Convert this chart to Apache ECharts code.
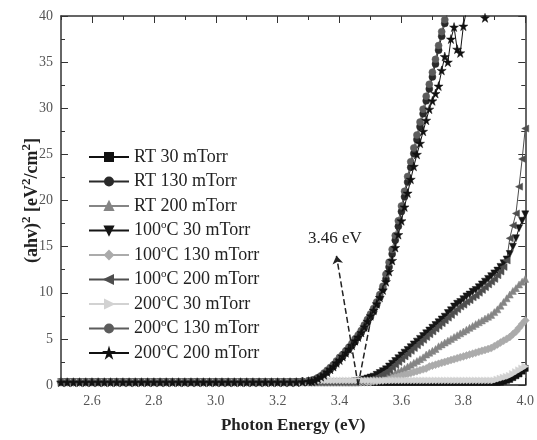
<!DOCTYPE html>
<html>
<head>
<meta charset="utf-8">
<script src="https://cdn.jsdelivr.net/npm/echarts@6/dist/echarts.min.js"></script>
<style>
  html, body { margin: 0; padding: 0; background: #fff; }
  #chart { width: 537px; height: 440px; }
</style>
</head>
<body>
<div id="chart"></div>
<script>
// photon energy (eV), coarse below 3.30 and fine above
const energy = [
  2.50, 2.52, 2.54, 2.56, 2.58, 2.60, 2.62, 2.64, 2.66, 2.68,
  2.70, 2.72, 2.74, 2.76, 2.78, 2.80, 2.82, 2.84, 2.86, 2.88,
  2.90, 2.92, 2.94, 2.96, 2.98, 3.00, 3.02, 3.04, 3.06, 3.08,
  3.10, 3.12, 3.14, 3.16, 3.18, 3.20, 3.22, 3.24, 3.26, 3.28,
  3.30,
  3.31, 3.32, 3.33, 3.34, 3.35, 3.36, 3.37, 3.38, 3.39, 3.40,
  3.41, 3.42, 3.43, 3.44, 3.45, 3.46, 3.47, 3.48, 3.49, 3.50,
  3.51, 3.52, 3.53, 3.54, 3.55, 3.56, 3.57, 3.58, 3.59, 3.60,
  3.61, 3.62, 3.63, 3.64, 3.65, 3.66, 3.67, 3.68, 3.69, 3.70,
  3.71, 3.72, 3.73, 3.74, 3.75, 3.76, 3.77, 3.78, 3.79, 3.80,
  3.81, 3.82, 3.83, 3.84, 3.85, 3.86, 3.87, 3.88, 3.89, 3.90,
  3.91, 3.92, 3.93, 3.94, 3.95, 3.96, 3.97, 3.98, 3.99, 4.00
];

// (ahv)^2 values, one array per sample
const rt30 = [
  0.3, 0.3, 0.3, 0.3, 0.3, 0.3, 0.3, 0.3, 0.3, 0.3,
  0.3, 0.3, 0.3, 0.3, 0.3, 0.3, 0.3, 0.3, 0.3, 0.3,
  0.3, 0.3, 0.3, 0.3, 0.3, 0.3, 0.3, 0.3, 0.3, 0.3,
  0.3, 0.3, 0.3, 0.3, 0.3, 0.3, 0.3, 0.3, 0.3, 0.3,
  0.3,
  0.3, 0.3, 0.3, 0.3, 0.3, 0.3, 0.3, 0.3, 0.3, 0.3,
  0.3, 0.3, 0.3, 0.3, 0.3, 0.3, 0.3, 0.3, 0.3, 0.3,
  0.3, 0.3, 0.3, 0.3, 0.3, 0.3, 0.3, 0.3, 0.3, 0.3,
  0.3, 0.3, 0.3, 0.3, 0.3, 0.3, 0.3, 0.3, 0.3, 0.3,
  0.3, 0.3, 0.3, 0.3, 0.3, 0.3, 0.3, 0.3, 0.3, 0.3,
  0.3, 0.3, 0.3, 0.3, 0.3, 0.3, 0.3, 0.3, 0.3, 0.3,
  0.3, 0.3, 0.4, 0.5, 0.6, 0.8, 1.0, 1.2, 1.5, 1.8
];
const rt130 = [
  0.3, 0.3, 0.3, 0.3, 0.3, 0.3, 0.3, 0.3, 0.3, 0.3,
  0.3, 0.3, 0.3, 0.3, 0.3, 0.3, 0.3, 0.3, 0.3, 0.3,
  0.3, 0.3, 0.3, 0.3, 0.3, 0.3, 0.3, 0.3, 0.3, 0.3,
  0.3, 0.3, 0.3, 0.3, 0.3, 0.3, 0.3, 0.3, 0.35, 0.4,
  0.45,
  0.5, 0.6, 0.7, 0.9, 1.2, 1.4, 1.7, 2.0, 2.4, 2.8,
  3.1, 3.5, 3.9, 4.3, 4.7, 5.2, 5.7, 6.2, 6.8, 7.4,
  8.0, 8.7, 9.5, 10.4, 11.5, 12.8, 14.2, 15.7, 17.2, 18.8,
  20.4, 22.0, 23.6, 25.1, 26.6, 28.0, 29.4, 30.8, 32.1, 33.4,
  34.8, 36.3, 37.8, 39.2, 40.5, 41.5
];
const rt200 = [
  0.3, 0.3, 0.3, 0.3, 0.3, 0.3, 0.3, 0.3, 0.3, 0.3,
  0.3, 0.3, 0.3, 0.3, 0.3, 0.3, 0.3, 0.3, 0.3, 0.3,
  0.3, 0.3, 0.3, 0.3, 0.3, 0.3, 0.3, 0.3, 0.3, 0.3,
  0.3, 0.3, 0.3, 0.3, 0.3, 0.3, 0.3, 0.3, 0.3, 0.3,
  0.3,
  0.3, 0.3, 0.3, 0.3, 0.3, 0.3, 0.3, 0.3, 0.3, 0.3,
  0.3, 0.3, 0.3, 0.3, 0.3, 0.3, 0.4, 0.4, 0.5, 0.5,
  0.6, 0.7, 0.8, 0.9, 1.0, 1.1, 1.2, 1.3, 1.5, 1.6,
  1.8, 2.0, 2.2, 2.4, 2.6, 2.8, 3.0, 3.3, 3.5, 3.7,
  3.9, 4.2, 4.4, 4.6, 4.8, 5.0, 5.2, 5.4, 5.6, 5.8,
  6.0, 6.2, 6.4, 6.6, 6.8, 7.0, 7.2, 7.4, 7.6, 7.9,
  8.2, 8.6, 9.0, 9.4, 9.8, 10.2, 10.5, 10.9, 11.2, 11.5
];
const c100_30 = [
  0.3, 0.3, 0.3, 0.3, 0.3, 0.3, 0.3, 0.3, 0.3, 0.3,
  0.3, 0.3, 0.3, 0.3, 0.3, 0.3, 0.3, 0.3, 0.3, 0.3,
  0.3, 0.3, 0.3, 0.3, 0.3, 0.3, 0.3, 0.3, 0.3, 0.3,
  0.3, 0.3, 0.3, 0.3, 0.3, 0.3, 0.3, 0.3, 0.3, 0.3,
  0.3,
  0.3, 0.3, 0.3, 0.3, 0.3, 0.3, 0.3, 0.3, 0.3, 0.3,
  0.3, 0.3, 0.3, 0.3, 0.4, 0.4, 0.5, 0.6, 0.7, 0.8,
  0.9, 1.1, 1.3, 1.5, 1.7, 2.0, 2.3, 2.6, 2.9, 3.2,
  3.5, 3.8, 4.1, 4.4, 4.7, 5.0, 5.3, 5.6, 5.9, 6.2,
  6.5, 6.8, 7.1, 7.4, 7.8, 8.1, 8.5, 8.8, 9.0, 9.3,
  9.6, 9.8, 10.1, 10.3, 10.6, 10.9, 11.2, 11.5, 11.8, 12.1,
  12.4, 12.8, 13.2, 13.6, 14.2, 15.0, 15.9, 17.0, 17.8, 18.5
];
const c100_130 = [
  0.3, 0.3, 0.3, 0.3, 0.3, 0.3, 0.3, 0.3, 0.3, 0.3,
  0.3, 0.3, 0.3, 0.3, 0.3, 0.3, 0.3, 0.3, 0.3, 0.3,
  0.3, 0.3, 0.3, 0.3, 0.3, 0.3, 0.3, 0.3, 0.3, 0.3,
  0.3, 0.3, 0.3, 0.3, 0.3, 0.3, 0.3, 0.3, 0.3, 0.3,
  0.3,
  0.3, 0.3, 0.3, 0.3, 0.3, 0.3, 0.3, 0.3, 0.3, 0.3,
  0.3, 0.3, 0.3, 0.3, 0.3, 0.3, 0.3, 0.3, 0.3, 0.3,
  0.4, 0.4, 0.5, 0.5, 0.6, 0.6, 0.7, 0.8, 0.9, 1.0,
  1.1, 1.2, 1.3, 1.4, 1.5, 1.6, 1.7, 1.8, 2.0, 2.1,
  2.2, 2.3, 2.4, 2.5, 2.6, 2.7, 2.8, 2.9, 3.0, 3.1,
  3.2, 3.3, 3.4, 3.5, 3.6, 3.7, 3.8, 3.9, 4.0, 4.2,
  4.4, 4.6, 4.8, 5.0, 5.2, 5.5, 5.8, 6.2, 6.6, 7.0
];
const c100_200 = [
  0.3, 0.3, 0.3, 0.3, 0.3, 0.3, 0.3, 0.3, 0.3, 0.3,
  0.3, 0.3, 0.3, 0.3, 0.3, 0.3, 0.3, 0.3, 0.3, 0.3,
  0.3, 0.3, 0.3, 0.3, 0.3, 0.3, 0.3, 0.3, 0.3, 0.3,
  0.3, 0.3, 0.3, 0.3, 0.3, 0.3, 0.3, 0.3, 0.3, 0.3,
  0.3,
  0.3, 0.3, 0.3, 0.3, 0.3, 0.3, 0.3, 0.3, 0.3, 0.3,
  0.3, 0.3, 0.3, 0.3, 0.3, 0.4, 0.4, 0.5, 0.5, 0.6,
  0.7, 0.8, 1.0, 1.2, 1.4, 1.6, 1.9, 2.2, 2.5, 2.8,
  3.1, 3.4, 3.7, 4.0, 4.3, 4.6, 4.9, 5.2, 5.5, 5.8,
  6.1, 6.4, 6.7, 7.0, 7.3, 7.6, 7.9, 8.2, 8.5, 8.7,
  9.0, 9.2, 9.5, 9.7, 10.0, 10.3, 10.6, 10.9, 11.2, 11.5,
  11.9, 12.3, 12.8, 13.5, 15.9, 17.3, 18.6, 21.5, 24.5, 27.8
];
const c200_30 = [
  0.3, 0.3, 0.3, 0.3, 0.3, 0.3, 0.3, 0.3, 0.3, 0.3,
  0.3, 0.3, 0.3, 0.3, 0.3, 0.3, 0.3, 0.3, 0.3, 0.3,
  0.3, 0.3, 0.3, 0.3, 0.3, 0.3, 0.3, 0.3, 0.3, 0.3,
  0.3, 0.3, 0.3, 0.3, 0.3, 0.3, 0.3, 0.3, 0.3, 0.3,
  0.4,
  0.5, 0.5, 0.5, 0.5, 0.5, 0.5, 0.5, 0.5, 0.5, 0.5,
  0.5, 0.5, 0.5, 0.5, 0.5, 0.5, 0.5, 0.5, 0.5, 0.5,
  0.5, 0.5, 0.5, 0.5, 0.5, 0.5, 0.5, 0.5, 0.5, 0.5,
  0.5, 0.5, 0.5, 0.5, 0.5, 0.5, 0.5, 0.5, 0.5, 0.5,
  0.5, 0.5, 0.5, 0.5, 0.5, 0.5, 0.5, 0.5, 0.5, 0.5,
  0.5, 0.5, 0.5, 0.5, 0.5, 0.5, 0.5, 0.5, 0.5, 0.5,
  0.6, 0.7, 0.8, 0.9, 1.0, 1.2, 1.4, 1.6, 1.8, 2.0
];
const c200_130 = [
  0.3, 0.3, 0.3, 0.3, 0.3, 0.3, 0.3, 0.3, 0.3, 0.3,
  0.3, 0.3, 0.3, 0.3, 0.3, 0.3, 0.3, 0.3, 0.3, 0.3,
  0.3, 0.3, 0.3, 0.3, 0.3, 0.3, 0.3, 0.3, 0.3, 0.3,
  0.3, 0.3, 0.3, 0.3, 0.3, 0.3, 0.3, 0.3, 0.35, 0.4,
  0.45,
  0.5, 0.6, 0.8, 1.0, 1.3, 1.6, 1.9, 2.2, 2.6, 3.0,
  3.3, 3.7, 4.1, 4.5, 5.0, 5.4, 5.9, 6.5, 7.1, 7.7,
  8.3, 9.0, 9.8, 10.7, 12.0, 13.3, 14.7, 16.2, 17.8, 19.4,
  21.0, 22.6, 24.2, 25.7, 27.1, 28.5, 29.9, 31.3, 32.6, 33.9,
  35.3, 36.8, 38.3, 39.6, 40.8, 41.8
];
const c200_200 = [
  0.3, 0.3, 0.3, 0.3, 0.3, 0.3, 0.3, 0.3, 0.3, 0.3,
  0.3, 0.3, 0.3, 0.3, 0.3, 0.3, 0.3, 0.3, 0.3, 0.3,
  0.3, 0.3, 0.3, 0.3, 0.3, 0.3, 0.3, 0.3, 0.3, 0.3,
  0.3, 0.3, 0.3, 0.3, 0.3, 0.3, 0.3, 0.3, 0.3, 0.35,
  0.4,
  0.4, 0.5, 0.7, 0.9, 1.1, 1.4, 1.7, 2.0, 2.4, 2.7,
  3.1, 3.5, 3.9, 4.3, 4.8, 5.2, 5.7, 6.3, 6.9, 7.5,
  8.1, 8.8, 9.5, 10.3, 11.2, 12.3, 13.5, 14.9, 16.3, 17.8,
  19.3, 20.8, 22.3, 23.7, 25.0, 26.2, 27.5, 28.7, 29.9, 30.8,
  31.6, 32.4, 34.1, 35.6, 35.0, 37.5, 38.8, 36.4, 36.0, 38.9,
  40.6, 41.2, 40.8, 41.0, 40.5, 40.2, 39.8, 40.6, 41.2, 41.8
];

const xTicks = [2.6, 2.8, 3.0, 3.2, 3.4, 3.6, 3.8, 4.0];
const xMinorTicks = [2.5, 2.6, 2.7, 2.8, 2.9, 3.0, 3.1, 3.2, 3.3, 3.4, 3.5, 3.6, 3.7, 3.8, 3.9, 4.0];
const edgeEv = 3.46;

const serif = '"Liberation Serif", "Times New Roman", serif';
const starPath = 'path://M50,0 L61,35 L98,35 L68,57 L79,91 L50,70 L21,91 L32,57 L2,35 L39,35 Z';

// name, values, color, symbol, rotate, size
const samples = [
  ['RT 30 mTorr', rt30, '#111', 'rect', 0, 6],
  ['RT 130 mTorr', rt130, '#2a2a2a', 'circle', 0, 7],
  ['RT 200 mTorr', rt200, '#858585', 'triangle', 0, 7],
  ['100°C 30 mTorr', c100_30, '#151515', 'triangle', 180, 7],
  ['100°C 130 mTorr', c100_130, '#ababab', 'diamond', 0, 8],
  ['100°C 200 mTorr', c100_200, '#4e4e4e', 'triangle', 90, 7],
  ['200°C 30 mTorr', c200_30, '#d2d2d2', 'triangle', -90, 7],
  ['200°C 130 mTorr', c200_130, '#5c5c5c', 'circle', 0, 7],
  ['200°C 200 mTorr', c200_200, '#111', starPath, 0, 9]
];

const chart = echarts.init(document.getElementById('chart'));

const series = samples.map(s => ({
  name: s[0],
  type: 'line',
  xAxisIndex: 0,
  yAxisIndex: 0,
  data: s[1].map((v, i) => [energy[i], v]),
  symbol: s[3],
  symbolRotate: s[4],
  symbolSize: s[5],
  showAllSymbol: true,
  clip: true,
  lineStyle: { color: s[2], width: 1 },
  itemStyle: { color: s[2], borderColor: s[2], borderWidth: 0.5 },
  emphasis: { disabled: true }
}));

// tangent line and arrow to the band-gap label
series[series.length - 1].markLine = {
  silent: true,
  symbol: ['none', 'none'],
  animation: false,
  lineStyle: { type: 'dashed', color: '#222', width: 1.5 },
  label: { show: false },
  data: [
    [{ coord: [edgeEv, 0] }, { coord: [3.505, 7.8] }],
    [
      { coord: [edgeEv, 0] },
      {
        coord: [3.39, 14.0],
        symbol: 'arrow',
        symbolSize: 8,
        label: {
          show: true,
          position: 'end',
          distance: 9,
          formatter: '3.46 eV',
          fontFamily: serif,
          fontSize: 17,
          color: '#222'
        }
      }
    ]
  ]
};

chart.setOption({
  animation: false,
  backgroundColor: '#fff',
  grid: { left: 61, right: 9, top: 16, bottom: 55 },
  legend: {
    orient: 'vertical',
    left: 88,
    top: 146,
    padding: 0,
    itemWidth: 40,
    itemHeight: 10,
    itemGap: 2.5,
    selectedMode: false,
    data: samples.map(s => s[0]),
    formatter: name => name.replace('°', '{sup|o}'),
    textStyle: {
      fontFamily: serif,
      fontSize: 18,
      lineHeight: 22,
      color: '#222',
      rich: {
        sup: { fontFamily: serif, fontSize: 11, verticalAlign: 'top', color: '#222' }
      }
    }
  },
  xAxis: [
    {
      type: 'value', position: 'bottom', min: 2.5, max: 4.0,
      name: 'Photon Energy (eV)', nameLocation: 'middle', nameGap: 32,
      nameTextStyle: { fontFamily: serif, fontWeight: 'bold', fontSize: 17, color: '#222' },
      axisLine: { show: true, onZero: false, lineStyle: { color: '#222', width: 1.5 } },
      axisTick: { show: true, inside: true, length: 7, customValues: xTicks, lineStyle: { color: '#222' } },
      axisLabel: { customValues: xTicks, formatter: v => v.toFixed(1), fontFamily: serif, fontSize: 14, color: '#555', margin: 9 },
      splitLine: { show: false }
    },
    {
      type: 'value', position: 'bottom', min: 2.5, max: 4.0,
      axisLine: { show: false, onZero: false },
      axisTick: { show: true, inside: true, length: 4, customValues: xMinorTicks, lineStyle: { color: '#222' } },
      axisLabel: { show: false },
      splitLine: { show: false }
    },
    {
      type: 'value', position: 'top', min: 2.5, max: 4.0,
      axisLine: { show: true, onZero: false, lineStyle: { color: '#333', width: 1.5 } },
      axisTick: { show: true, inside: true, length: 7, customValues: xTicks, lineStyle: { color: '#333' } },
      axisLabel: { show: false },
      splitLine: { show: false }
    },
    {
      type: 'value', position: 'top', min: 2.5, max: 4.0,
      axisLine: { show: false, onZero: false },
      axisTick: { show: true, inside: true, length: 4, customValues: xMinorTicks, lineStyle: { color: '#333' } },
      axisLabel: { show: false },
      splitLine: { show: false }
    }
  ],
  yAxis: [
    {
      type: 'value', position: 'left', min: 0, max: 40, interval: 5,
      name: '(ahv){sup|2} [eV{sup|2}/cm{sup|2}]',
      nameLocation: 'middle', nameGap: 17, nameRotate: 90, nameMoveOverlap: false,
      nameTextStyle: {
        fontFamily: serif, fontWeight: 'bold', fontSize: 18, lineHeight: 24, color: '#222',
        rich: { sup: { fontFamily: serif, fontWeight: 'bold', fontSize: 13, verticalAlign: 'top', color: '#222' } }
      },
      axisLine: { show: true, onZero: false, lineStyle: { color: '#333', width: 1.5 } },
      axisTick: { show: true, inside: true, length: 7, lineStyle: { color: '#333' } },
      minorTick: { show: true, splitNumber: 2, length: 4, lineStyle: { color: '#333' } },
      axisLabel: { fontFamily: serif, fontSize: 14, color: '#555', margin: 8 },
      splitLine: { show: false }
    },
    {
      type: 'value', position: 'right', min: 0, max: 40, interval: 5,
      axisLine: { show: true, onZero: false, lineStyle: { color: '#333', width: 1.5 } },
      axisTick: { show: true, inside: true, length: 7, lineStyle: { color: '#333' } },
      minorTick: { show: true, splitNumber: 2, length: 4, lineStyle: { color: '#333' } },
      axisLabel: { show: false },
      splitLine: { show: false }
    }
  ],
  series: series
});
</script>
</body>
</html>
